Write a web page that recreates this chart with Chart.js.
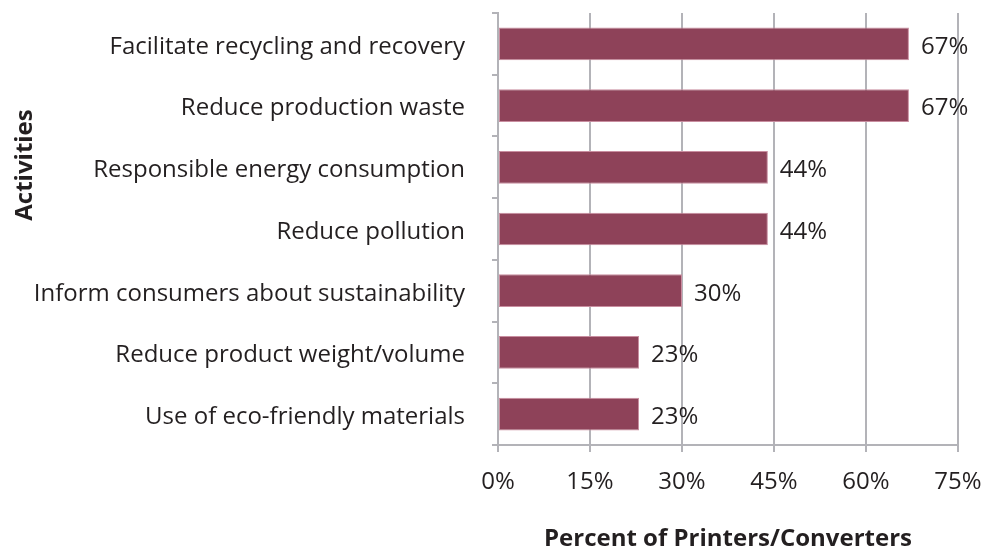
<!DOCTYPE html>
<html>
<head>
<meta charset="utf-8">
<script src="https://cdn.jsdelivr.net/npm/chart.js@4/dist/chart.umd.min.js"></script>
<style>
  html, body { margin: 0; padding: 0; background: #fff; }
  #wrap { width: 991px; height: 554px; }
</style>
</head>
<body>
<div id="wrap"><canvas id="chartActivities"></canvas></div>
<script>
const activities = [
  'Facilitate recycling and recovery',
  'Reduce production waste',
  'Responsible energy consumption',
  'Reduce pollution',
  'Inform consumers about sustainability',
  'Reduce product weight/volume',
  'Use of eco-friendly materials',
];
const percents = [67, 67, 44, 44, 30, 23, 23];
const xTicks = [0, 15, 30, 45, 60, 75];

const FONT = '"Open Sans", Lato, sans-serif';
const GRID = '#b3b3b8';
const TEXT = '#231f20';

// value labels at the end of each bar, plus the rotated axis title
const barValues = {
  id: 'barValues',
  afterDatasetsDraw(chart) {
    const ctx = chart.ctx;
    const meta = chart.getDatasetMeta(0);
    ctx.save();
    ctx.font = '24px ' + FONT;
    ctx.fillStyle = TEXT;
    ctx.textAlign = 'left';
    ctx.textBaseline = 'middle';
    meta.data.forEach((bar, i) => {
      ctx.fillText(percents[i] + '%', bar.x + 12, bar.y + 3);
    });
    ctx.restore();

    ctx.save();
    ctx.translate(25, 165);
    ctx.rotate(-Math.PI / 2);
    ctx.font = 'bold 24px ' + FONT;
    ctx.fillStyle = TEXT;
    ctx.textAlign = 'center';
    ctx.textBaseline = 'middle';
    ctx.fillText('Activities', 0, 0);
    ctx.restore();
  },
};

var ctx = document.getElementById('chartActivities');
var myBarChart = new Chart(ctx, {
  type: 'bar',
  data: {
    labels: activities,
    datasets: [
      {
        data: percents,
        backgroundColor: '#8e4259',
        borderColor: '#c98ea0',
        borderWidth: 1,
        borderSkipped: false,
        categoryPercentage: 1,
        barPercentage: 0.53,
      },
    ],
  },
  options: {
    indexAxis: 'y',
    responsive: true,
    maintainAspectRatio: false,
    animation: false,
    layout: { padding: { top: 13, right: 33, left: 0, bottom: 0 } },
    plugins: {
      legend: { display: false },
      tooltip: { enabled: false },
    },
    scales: {
      x: {
        min: 0,
        max: 75,
        afterBuildTicks: (scale) => {
          scale.ticks = xTicks.map((v) => ({ value: v }));
        },
        afterFit: (scale) => {
          scale.height = 109;
          scale.paddingLeft = 0;
          scale.paddingRight = 0;
        },
        grid: {
          color: GRID,
          lineWidth: 2,
          tickLength: 7,
          drawTicks: true,
        },
        border: { display: true, color: GRID, width: 2 },
        ticks: {
          color: TEXT,
          font: { family: FONT, size: 24 },
          padding: 16,
          maxRotation: 0,
          callback: (v) => v + '%',
        },
        title: {
          display: true,
          text: 'Percent of Printers/Converters',
          color: TEXT,
          font: { family: FONT, size: 24, weight: 'bold' },
          padding: { top: 0, bottom: 0 },
        },
      },
      y: {
        offset: true,
        afterFit: (scale) => {
          scale.width = 498;
          scale.paddingTop = 0;
          scale.paddingBottom = 0;
        },
        grid: {
          offset: true,
          drawOnChartArea: false,
          drawTicks: true,
          tickLength: 6,
          color: GRID,
          lineWidth: 2,
        },
        border: { display: true, color: GRID, width: 2 },
        ticks: {
          color: TEXT,
          font: { family: FONT, size: 24 },
          padding: 27,
          labelOffset: 3,
        },
      },
    },
  },
  plugins: [barValues],
});
</script>
</body>
</html>
